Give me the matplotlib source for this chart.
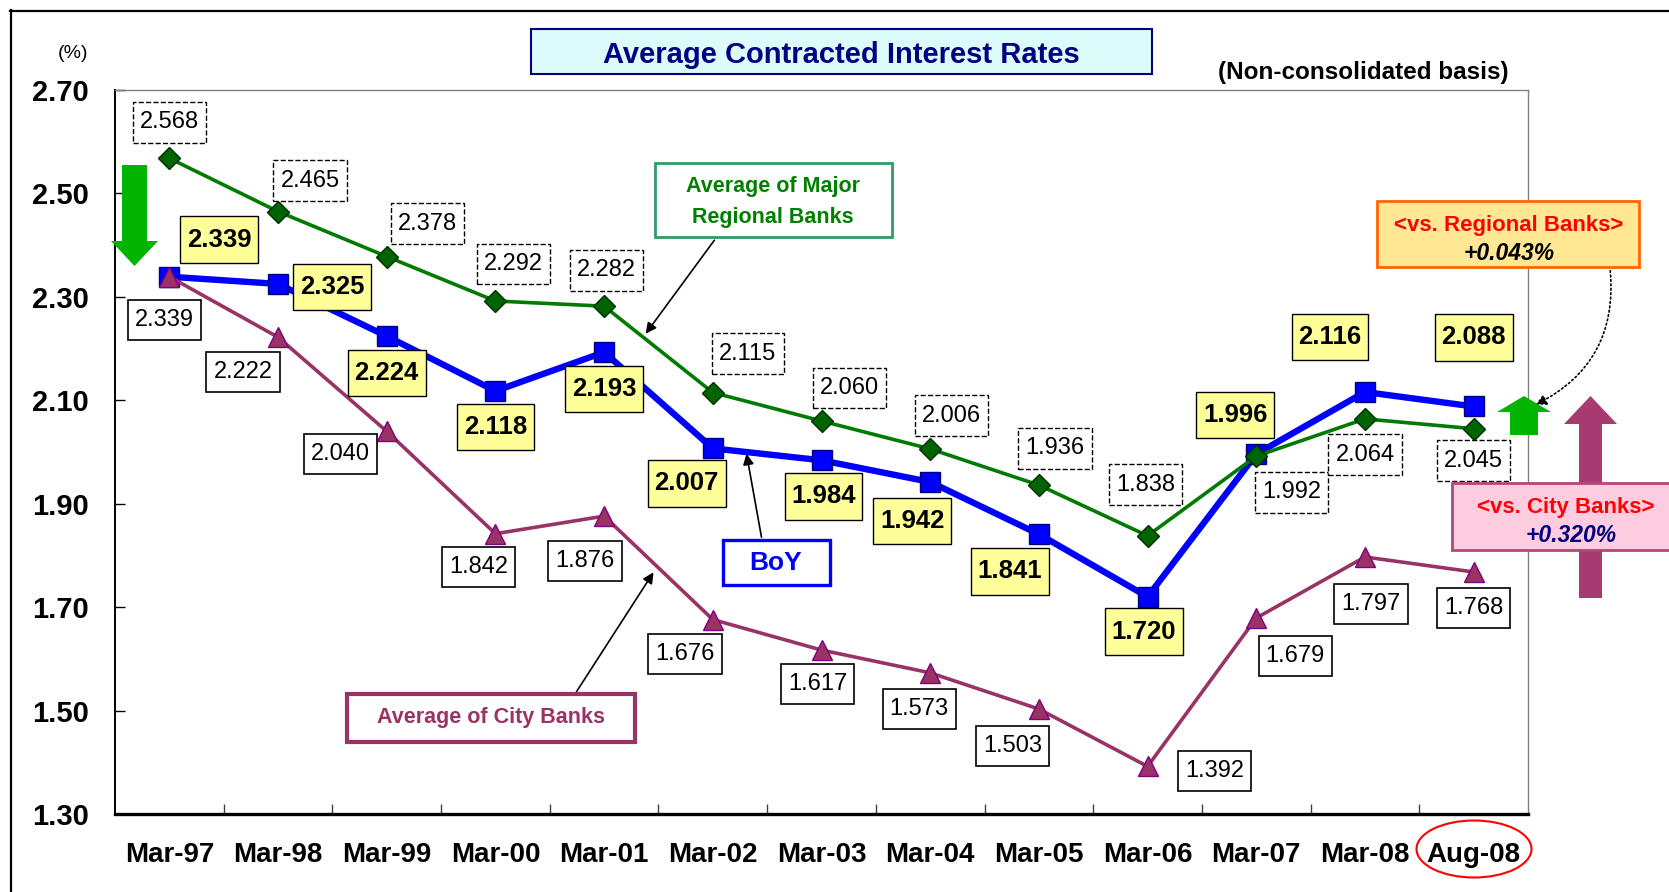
import matplotlib
matplotlib.use("Agg")
from matplotlib import pyplot as plt
from matplotlib.patches import Rectangle, Polygon, Ellipse
from matplotlib.lines import Line2D
from matplotlib.path import Path
import numpy as np

W, H = 1669, 892
DPI = 100

# data
periods = ["Mar-97", "Mar-98", "Mar-99", "Mar-00", "Mar-01", "Mar-02", "Mar-03",
           "Mar-04", "Mar-05", "Mar-06", "Mar-07", "Mar-08", "Aug-08"]
boy_rates = [2.339, 2.325, 2.224, 2.118, 2.193, 2.007, 1.984, 1.942, 1.841, 1.720, 1.996, 2.116, 2.088]
regional_rates = [2.568, 2.465, 2.378, 2.292, 2.282, 2.115, 2.060, 2.006, 1.936, 1.838, 1.992, 2.064, 2.045]
city_rates = [2.339, 2.222, 2.040, 1.842, 1.876, 1.676, 1.617, 1.573, 1.503, 1.392, 1.679, 1.797, 1.768]
y_ticks = [1.30, 1.50, 1.70, 1.90, 2.10, 2.30, 2.50, 2.70]

# label offsets from each point, in pixels (x right, y up)
boy_offsets = [(50, 37), (54, -3), (0, -37), (0, -36), (0, -37), (-26, -35), (2, -36),
               (-18, -39), (-29, -37), (-4, -35), (-21, 39), (-35, 55), (0, 69)]
regional_offsets = [(0, 36), (32, 31), (41, 33), (18, 37), (2, 36), (35, 39), (28, 33),
                    (21, 33), (16, 37), (-2, 51), (35, -36), (0, -36), (0, -32)]
city_offsets = [(-5, -43), (-35, -35), (-46, -23), (-17, -33), (-19, -45), (-28, -34), (-4, -34),
                (-11, -36), (-26, -37), (67, -5), (39, -38), (6, -47), (0, -36)]

plt.rcParams["font.family"] = ["Liberation Sans", "DejaVu Sans"]

BLUE = "#0000ff"
GREEN = "#007a00"
PURPLE = "#993366"


def label_box(padx, pady):
    # square box with separate horizontal / vertical padding (fractions of font size)
    def style(x0, y0, width, height, mutation_size):
        px, py = padx * mutation_size, pady * mutation_size
        x0, y0 = x0 - px, y0 - py
        x1, y1 = x0 + width + 2 * px, y0 + height + 2 * py
        return Path([(x0, y0), (x1, y0), (x1, y1), (x0, y1), (x0, y0)], closed=True)
    return style


def figbox(x0, y0, x1, y1):
    # pixel box (top-left origin) -> figure fraction rect args
    return (x0 / W, 1 - y1 / H), (x1 - x0) / W, (y1 - y0) / H


def fpt(x, y):
    return (x / W, 1 - y / H)


def block_arrow(fig, shaft, head, tip_y, base_y, tail_y, color):
    sx0, sx1 = shaft
    hx0, hx1 = head
    tip_x = (hx0 + hx1) / 2
    pts = [(sx0, tail_y), (sx0, base_y), (hx0, base_y), (tip_x, tip_y),
           (hx1, base_y), (sx1, base_y), (sx1, tail_y)]
    fig.add_artist(Polygon([fpt(x, y) for x, y in pts], closed=True, transform=fig.transFigure,
                           facecolor=color, edgecolor="none", zorder=5))


def text_box(fig, x0, y0, x1, y1, face, edge, lw):
    xy, w, h = figbox(x0, y0, x1, y1)
    fig.add_artist(Rectangle(xy, w, h, transform=fig.transFigure, facecolor=face,
                             edgecolor=edge, linewidth=lw, zorder=6))


def pointer(ax, start, end, **kw):
    ax.annotate("", xy=(end[0], H - end[1]), xycoords="figure pixels",
                xytext=(start[0], H - start[1]), textcoords="figure pixels",
                arrowprops=dict(arrowstyle="-|>", color="black", lw=1.2, mutation_scale=16, **kw),
                zorder=7, annotation_clip=False)


fig = plt.figure(figsize=(W / DPI, H / DPI), dpi=DPI)

# outer frame
fig.add_artist(Line2D([10.5 / W, 10.5 / W], [0, 1 - 10 / H], transform=fig.transFigure, color="black", lw=1.6))
fig.add_artist(Line2D([10 / W, 1], [1 - 10.5 / H, 1 - 10.5 / H], transform=fig.transFigure, color="black", lw=1.6))

ax_l, ax_r, ax_t, ax_b = 115, 1528, 90, 814
ax = fig.add_axes([ax_l / W, 1 - ax_b / H, (ax_r - ax_l) / W, (ax_b - ax_t) / H])

x = np.arange(len(periods))
ax.plot(x, boy_rates, color=BLUE, lw=4.6, marker="s", markersize=14,
        markerfacecolor=BLUE, markeredgecolor="#000080", markeredgewidth=1, zorder=3)
ax.plot(x, city_rates, color=PURPLE, lw=2.6, marker="^", markersize=14,
        markerfacecolor=PURPLE, markeredgecolor="#800080", markeredgewidth=1, zorder=4)
ax.plot(x, regional_rates, color=GREEN, lw=2.6, marker="D", markersize=11,
        markerfacecolor="#006400", markeredgecolor="#003000", markeredgewidth=1, zorder=5)

for i, v in enumerate(boy_rates):
    ax.annotate(f"{v:.3f}", xy=(i, v), xytext=boy_offsets[i], textcoords="offset pixels",
                ha="center", va="center", fontsize=18.5, fontweight="bold", zorder=8,
                bbox=dict(boxstyle=label_box(0.26, 0.44), facecolor="#ffff99", edgecolor="black", lw=1))
for i, v in enumerate(regional_rates):
    ax.annotate(f"{v:.3f}", xy=(i, v), xytext=regional_offsets[i], textcoords="offset pixels",
                ha="center", va="center", fontsize=17, zorder=8,
                bbox=dict(boxstyle=label_box(0.3, 0.4), facecolor="white", edgecolor="black",
                          lw=1, linestyle="--"))
for i, v in enumerate(city_rates):
    ax.annotate(f"{v:.3f}", xy=(i, v), xytext=city_offsets[i], textcoords="offset pixels",
                ha="center", va="center", fontsize=17, zorder=8,
                bbox=dict(boxstyle=label_box(0.3, 0.38), facecolor="white", edgecolor="black", lw=1.2))

ax.set_xlim(-0.5, len(periods) - 0.5)
ax.set_ylim(1.30, 2.70)
ax.set_yticks(y_ticks)
ax.set_yticklabels([f"{t:.2f}" for t in y_ticks], fontsize=21, fontweight="bold")
ax.set_xticks(x)
ax.set_xticklabels(periods, fontsize=20, fontweight="bold")
ax.set_xticks(np.arange(len(periods) - 1) + 0.5, minor=True)
ax.tick_params(axis="x", which="major", length=0, pad=20)
ax.tick_params(axis="x", which="minor", direction="in", length=7, width=1, color="#404040")
ax.tick_params(axis="y", direction="in", length=7, width=1, pad=19)
ax.spines["left"].set_linewidth(1.4)
ax.spines["bottom"].set_linewidth(2.4)
for side in ("top", "right"):
    ax.spines[side].set_color("#808080")
    ax.spines[side].set_linewidth(1)

# title and notes
text_box(fig, 531, 29, 1152, 74, "#dcfcfc", "#000080", 1.5)
fig.text(*fpt(841, 55), "Average Contracted Interest Rates", ha="center", va="center",
         fontsize=21, fontweight="bold", color="#000080", zorder=7)
fig.text(*fpt(73, 53), "(%)", ha="center", va="center", fontsize=14)
fig.text(*fpt(1363, 72), "(Non-consolidated basis)", ha="center", va="center",
         fontsize=17.5, fontweight="bold")

# series call-outs
text_box(fig, 655, 163, 892, 237, "white", "#339966", 2)
fig.text(*fpt(773, 202), "Average of Major\nRegional Banks", ha="center", va="center",
         fontsize=15.5, fontweight="bold", color="#008000", linespacing=1.6, zorder=7)
pointer(ax, (716, 238), (644, 336))

text_box(fig, 723, 540, 830, 585, "white", BLUE, 2.4)
fig.text(*fpt(776, 563), "BoY", ha="center", va="center", fontsize=19, fontweight="bold",
         color=BLUE, zorder=7)
pointer(ax, (762, 540), (746, 451))

text_box(fig, 347, 694, 635, 742, "white", PURPLE, 3)
fig.text(*fpt(491, 718), "Average of City Banks", ha="center", va="center", fontsize=15.5,
         fontweight="bold", color=PURPLE, zorder=7)
pointer(ax, (575, 694), (655, 570))

# block arrows
block_arrow(fig, (122, 147), (111, 158), 266, 241, 165, "#00b400")
block_arrow(fig, (1510, 1538), (1497, 1551), 396, 412, 435, "#00b400")
block_arrow(fig, (1579, 1602), (1564, 1617), 396, 424, 598, "#a83a72")

# difference boxes
text_box(fig, 1377, 201, 1639, 267, "#ffe794", "#ff6600", 2)
fig.text(*fpt(1509, 226), "<vs. Regional Banks>", ha="center", va="center", fontsize=16,
         fontweight="bold", color="#ff0000", zorder=7)
fig.text(*fpt(1509, 253), "+0.043%", ha="center", va="center", fontsize=16.5, fontweight="bold",
         fontstyle="italic", color="black", zorder=7)
pointer(ax, (1610, 268), (1533, 406), linestyle=":", connectionstyle="arc3,rad=-0.35")

text_box(fig, 1452, 483, 1680, 550, "#ffcce0", "#b0487a", 2)
fig.text(*fpt(1566, 508), "<vs. City Banks>", ha="center", va="center", fontsize=16,
         fontweight="bold", color="#ff0000", zorder=7)
fig.text(*fpt(1571, 536), "+0.320%", ha="center", va="center", fontsize=16.5, fontweight="bold",
         fontstyle="italic", color="#000080", zorder=7)

# highlight the latest period
xy = fpt(1474, 849)
fig.add_artist(Ellipse(xy, 115 / W, 57 / H, transform=fig.transFigure, facecolor="none",
                       edgecolor="#ff0000", lw=1.5, zorder=7))

fig.savefig("out.png", dpi=DPI)
